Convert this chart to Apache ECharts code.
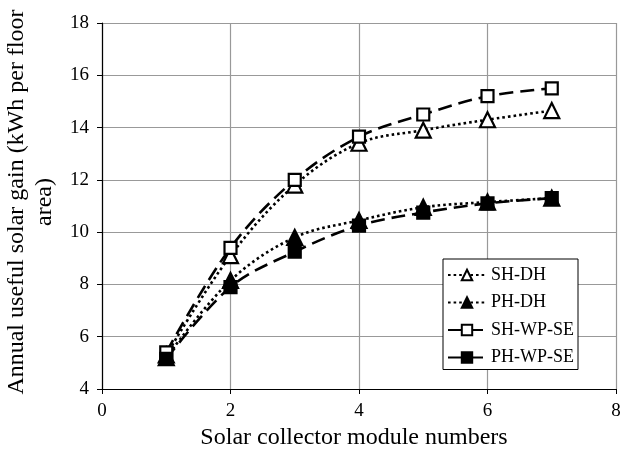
<!DOCTYPE html>
<html>
<head>
<meta charset="utf-8">
<script src="https://cdn.jsdelivr.net/npm/echarts@6/dist/echarts.min.js"></script>
<style>
html,body{margin:0;padding:0;background:#fff;}
#chart{width:621px;height:451px;}
</style>
</head>
<body>
<div id="chart"></div>
<script>
var modules = [1, 2, 3, 4, 5, 6, 7];
var shDH   = [5.3, 9.1, 11.8, 13.4, 13.9, 14.3, 14.65];
var phDH   = [5.2, 8.15, 9.8, 10.45, 10.95, 11.15, 11.3];
var shWPSE = [5.4, 9.4, 12.0, 13.65, 14.5, 15.2, 15.5];
var phWPSE = [5.15, 7.9, 9.25, 10.25, 10.75, 11.1, 11.3];
var seriesNames = ['SH-DH', 'PH-DH', 'SH-WP-SE', 'PH-WP-SE'];
var xTicks = [0, 2, 4, 6, 8];
var yTicks = [4, 6, 8, 10, 12, 14, 16, 18];

function pairs(ys){ return modules.map(function(x,i){ return [x, ys[i]]; }); }

var font = '"Liberation Serif", "Times New Roman", serif';
var chart = echarts.init(document.getElementById('chart'));

function mk(name, ys, lineType, symbol, filled, size){
  return {
    name: name, type: 'line', data: pairs(ys), smooth: 0.35,
    symbol: symbol, symbolSize: size,
    lineStyle: {color: '#000', width: 2.6, type: lineType},
    itemStyle: {color: filled ? '#000' : '#fff', borderColor: '#000', borderWidth: 2.2},
    emphasis: {disabled: true}
  };
}

chart.setOption({
  animation: false,
  backgroundColor: '#fff',
  textStyle: {fontFamily: font},
  grid: {left: 102, right: 5, top: 23, bottom: 62, containLabel: false, outerBoundsMode: 'none'},
  xAxis: {
    type: 'value', min: xTicks[0], max: xTicks[xTicks.length-1], interval: 2,
    name: 'Solar collector module numbers', nameLocation: 'middle', nameGap: 37,
    nameTextStyle: {fontFamily: font, fontSize: 24, color: '#000', padding: [0, 10, 0, 0]},
    axisLine: {show: true, lineStyle: {color: '#000', width: 1.2}},
    axisTick: {show: true, length: 5, lineStyle: {color: '#000'}},
    axisLabel: {fontFamily: font, fontSize: 19, color: '#000', margin: 13},
    splitLine: {show: true, lineStyle: {color: '#999', width: 1.2}}
  },
  yAxis: {
    type: 'value', min: yTicks[0], max: yTicks[yTicks.length-1], interval: 2,
    name: 'Annual useful solar gain (kWh per floor\narea)', nameLocation: 'middle', nameGap: 40,
    nameTextStyle: {fontFamily: font, fontSize: 24, color: '#000', lineHeight: 28, align: 'center', padding: [0, 0, 0, 8]},
    axisLine: {show: true, lineStyle: {color: '#000', width: 1.2}},
    axisTick: {show: true, length: 5, lineStyle: {color: '#000'}},
    axisLabel: {fontFamily: font, fontSize: 19, color: '#000', margin: 13},
    splitLine: {show: true, lineStyle: {color: '#999', width: 1.2}}
  },
  legend: {
    data: seriesNames,
    orient: 'vertical', left: 443, top: 259,
    itemWidth: 38, itemHeight: 13, itemGap: 9.5,
    padding: [7, 4, 3, 4],
    backgroundColor: '#fff', borderColor: '#000', borderWidth: 1, borderRadius: 0,
    textStyle: {fontFamily: font, fontSize: 18, color: '#000'}
  },
  series: [
    mk(seriesNames[0], shDH, [2.6, 3], 'triangle', false, 15),
    mk(seriesNames[1], phDH, [2.6, 3], 'triangle', true, 15),
    mk(seriesNames[2], shWPSE, [14, 7], 'rect', false, 12),
    mk(seriesNames[3], phWPSE, [14, 7], 'rect', true, 12)
  ]
});
</script>
</body>
</html>
